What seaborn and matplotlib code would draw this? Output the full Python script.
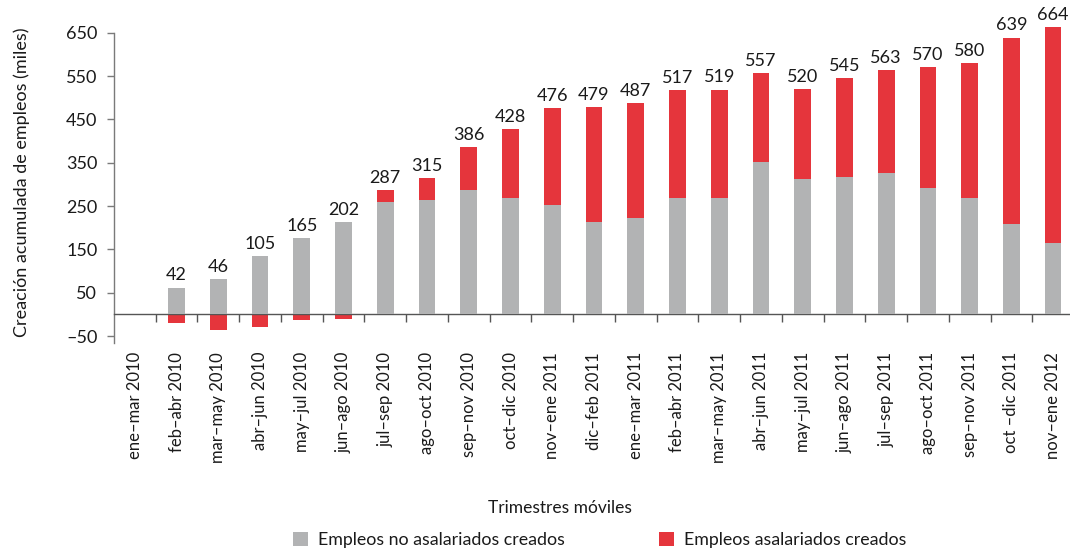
import numpy as np
import pandas as pd
import matplotlib
matplotlib.use("Agg")
import matplotlib.pyplot as plt
from matplotlib.patches import Patch
import seaborn as sns

# Rolling quarters
trimestres = [
    "ene–mar 2010", "feb–abr 2010", "mar–may 2010", "abr–jun 2010",
    "may–jul 2010", "jun–ago 2010", "jul–sep 2010", "ago–oct 2010",
    "sep–nov 2010", "oct–dic 2010", "nov–ene 2011", "dic–feb 2011",
    "ene–mar 2011", "feb–abr 2011", "mar–may 2011", "abr–jun 2011",
    "may–jul 2011", "jun–ago 2011", "jul–sep 2011", "ago–oct 2011",
    "sep–nov 2011", "oct –dic 2011", "nov–ene 2012",
]
# Cumulative total job creation (thousands)
total = [0, 42, 46, 105, 165, 202, 287, 315, 386, 428, 476, 479,
         487, 517, 519, 557, 520, 545, 563, 570, 580, 639, 664]
# Non-salaried jobs created (thousands)
no_asalariados = [0, 62, 82, 135, 177, 213, 260, 263, 288, 269, 253, 214,
                  223, 269, 269, 352, 313, 317, 327, 292, 269, 209, 165]
y_ticks = [-50, 50, 150, 250, 350, 450, 550, 650]

GRIS = "#b2b3b4"
ROJO = "#e5353c"

sns.set_theme(style="white")
plt.rcParams["font.family"] = ["Lato", "DejaVu Sans"]

df = pd.DataFrame({"trimestre": trimestres, "total": total,
                   "no_asal": no_asalariados})
df["asal"] = df["total"] - df["no_asal"]
# salaried part: stacked above the grey part when positive, below zero when negative
df["rojo"] = np.where(df["asal"] > 0, df["total"], df["asal"])

fig = plt.figure(figsize=(10.70, 5.54), dpi=100)
ax = fig.add_axes([114 / 1070, 1 - 343 / 554, 960 / 1070, 331 / 554])

sns.barplot(data=df, x="trimestre", y="rojo", order=trimestres, color=ROJO,
            saturation=1, width=0.40, errorbar=None, ax=ax, zorder=2,
            linewidth=0, edgecolor="none")
sns.barplot(data=df, x="trimestre", y="no_asal", order=trimestres, color=GRIS,
            saturation=1, width=0.40, errorbar=None, ax=ax, zorder=3,
            linewidth=0, edgecolor="none")

ax.set_xlim(-0.5, len(trimestres) - 0.5)
ax.set_ylim(-66, 698)

# Value labels with the cumulative total
for i, row in df.iterrows():
    if row["total"] == 0:
        continue
    top = max(row["no_asal"], row["total"])
    ax.annotate(f"{row['total']:.0f}", (i, top), xytext=(0, 3),
                textcoords="offset points", ha="center", va="bottom",
                fontsize=13, color="#1a1a1a", clip_on=False)

# Axes styling
for s in ["top", "right"]:
    ax.spines[s].set_visible(False)
ax.spines["left"].set_bounds(-66, 650)
ax.spines["left"].set_color("#7a7a7a")
ax.spines["left"].set_linewidth(1.0)
ax.spines["bottom"].set_position(("data", 0))
ax.spines["bottom"].set_color("#555555")
ax.spines["bottom"].set_linewidth(1.0)

ax.set_yticks(y_ticks)
ax.set_yticklabels([f"{v}".replace("-", "–") for v in y_ticks])
ax.tick_params(axis="y", direction="out", length=5, width=1.0, color="#7a7a7a",
               labelsize=13, labelcolor="#1a1a1a", pad=7, left=True)

ax.set_xticks(range(len(trimestres)))
ax.set_xticklabels(trimestres, rotation=90, va="top", ha="center")
ax.set_xticks(np.arange(0.5, len(trimestres) - 0.5, 1.0), minor=True)
ax.tick_params(axis="x", which="major", length=0, pad=27, labelsize=12,
               labelcolor="#1a1a1a")
ax.tick_params(axis="x", which="minor", direction="out", length=6, width=1.0,
               color="#555555", bottom=True)

ax.set_xlabel("")
ax.set_ylabel("Creación acumulada de empleos (miles)", fontsize=13,
              color="#1a1a1a")
ax.yaxis.set_label_coords(-0.088, 0.487)

fig.text(560 / 1070, 1 - 508 / 554, "Trimestres móviles", ha="center",
         va="center", fontsize=12.5, color="#1a1a1a")

handles = [Patch(facecolor=GRIS, edgecolor="none"),
           Patch(facecolor=ROJO, edgecolor="none")]
fig.legend(handles, ["Empleos no asalariados creados",
                     "Empleos asalariados creados"],
           loc="center", bbox_to_anchor=(600 / 1070, 1 - 540 / 554), ncol=2,
           frameon=False, fontsize=12.8, handlelength=0.8, handleheight=0.8,
           handletextpad=0.6, columnspacing=5.3, labelcolor="#1a1a1a")

fig.savefig("out.png", dpi=100)
